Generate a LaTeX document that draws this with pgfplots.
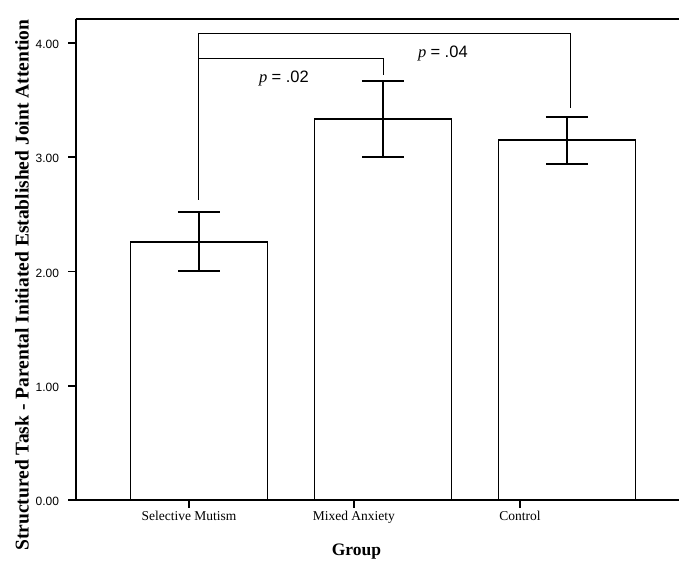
\documentclass[border=0pt]{standalone}
\usepackage{fontspec}
\setmainfont{Liberation Serif}
\newfontfamily\tickfont{Liberation Sans}
\usepackage{pgfplots}
\pgfplotsset{compat=1.18}
\begin{document}
\begin{tikzpicture}[x=1pt,y=1pt]
\useasboundingbox (-76,-63) rectangle (603,500);
\begin{axis}[
  at={(0,0)}, anchor=south west,
  scale only axis, width=603pt, height=481pt,
  xmin=-0.668, xmax=2.609, ymin=0, ymax=4.21,
  axis x line*=bottom, axis y line*=left,
  axis line style={line width=1.5pt, -},
  tick align=outside, major tick length=7.5pt,
  tick style={line width=1.5pt, black},
  xtick={-0.054,0.842,1.745},
  xticklabels={Selective Mutism, Mixed Anxiety, Control},
  xticklabel style={font=\fontsize{13.5}{14}\selectfont},
  ytick={0,1,2,3,4},
  yticklabel style={font=\tickfont\fontsize{12}{12}\selectfont, xshift=-6pt, yshift=-1.5pt,
    /pgf/number format/.cd, fixed, fixed zerofill, precision=2, assume math mode=true},
  ylabel={Structured Task - Parental Initiated Established Joint Attention},
  ylabel style={font=\bfseries\fontsize{19.5}{20}\selectfont,
    at={(axis description cs:-0.0896,0.447)}, anchor=center},
  xlabel={Group},
  xlabel style={font=\bfseries\fontsize{17.5}{18}\selectfont,
    at={(axis description cs:0.465,-0.108)}, anchor=center},
  clip=false,
]
\draw[line width=1.5pt] (rel axis cs:0,1) -- (rel axis cs:1,1);
\addplot[ybar, bar width=137pt, fill=white, draw=black, line width=1.6pt,
  error bars/.cd, y dir=both, y explicit,
  error bar style={line width=2pt, black},
  error mark options={rotate=90, mark size=21pt, line width=2pt, black}]
  coordinates {(0,2.26) +- (0,0.26) (1,3.335) +- (0,0.33) (2,3.15) +- (0,0.205)};
\addplot[black, line width=1pt, no markers, sharp plot]
  coordinates {(0,2.626) (0,3.866) (1.004,3.866) (1.004,3.72)};
\addplot[black, line width=1pt, no markers, sharp plot]
  coordinates {(0,3.866) (0,4.08) (2.022,4.08) (2.022,3.43)};
\node[font=\fontsize{16.5}{17}\selectfont] at (axis cs:0.462,3.685) {\textit{p} {\tickfont= .02}};
\node[font=\fontsize{16.5}{17}\selectfont] at (axis cs:1.326,3.91) {\textit{p} {\tickfont= .04}};
\end{axis}
\end{tikzpicture}
\end{document}
